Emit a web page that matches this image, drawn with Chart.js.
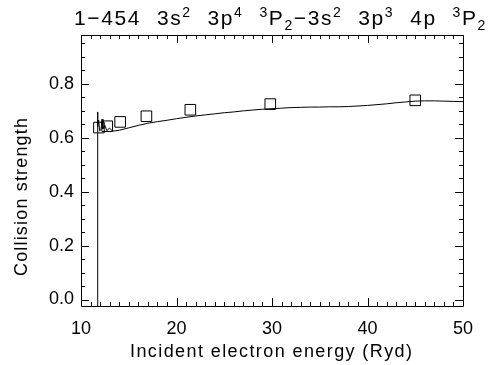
<!DOCTYPE html>
<html><head><meta charset="utf-8">
<script src="https://cdn.jsdelivr.net/npm/chart.js@4"></script>
<style>html,body{margin:0;padding:0;background:#fff}#wrap{width:493px;height:365px}</style>
</head><body><div id="wrap"><canvas id="c" width="493" height="365"></canvas></div>
<script>
// Theoretical collision strength curve (Incident electron energy in Ryd)
const curveX = [11.71, 11.72, 11.78, 11.85, 11.95, 12.1, 12.2, 12.3, 12.5, 12.7, 13.0, 13.3, 14.0, 15.0, 16.0, 17.0, 18.0, 19.0, 20.0, 21.0, 22.0, 23.0, 24.0, 25.0, 26.0, 27.0, 28.0, 29.0, 30.0, 31.0, 32.0, 33.0, 34.0, 35.0, 36.0, 37.0, 38.0, 39.0, 40.0, 41.0, 42.0, 43.0, 44.0, 45.0, 46.0, 47.0, 48.0, 49.0, 50.0];
const curveY = [-0.05, 0.695, 0.64, 0.665, 0.625, 0.63, 0.668, 0.632, 0.645, 0.626, 0.635, 0.624, 0.627, 0.636, 0.645, 0.653, 0.659, 0.664, 0.670, 0.675, 0.680, 0.684, 0.688, 0.692, 0.695, 0.699, 0.702, 0.705, 0.707, 0.709, 0.711, 0.712, 0.713, 0.713, 0.714, 0.714, 0.715, 0.717, 0.719, 0.722, 0.725, 0.729, 0.732, 0.735, 0.736, 0.736, 0.735, 0.734, 0.733];
// Comparison data points (squares)
const pointX = [11.88, 12.75, 14.1, 16.85, 21.45, 29.82, 45.0];
const pointY = [0.637, 0.642, 0.658, 0.679, 0.703, 0.724, 0.738];
// Tick labels
const xTickValues = [10, 20, 30, 40, 50];
const yTickValues = [0.0, 0.2, 0.4, 0.6, 0.8];
// Title words (text with superscripts / subscripts)
const titleWords = [
  [['1\u2212454', 'n']],
  [['3s', 'n'], ['2', 'sup']],
  [['3p', 'n'], ['4', 'sup']],
  [['3', 'sup'], ['P', 'n'], ['2', 'sub'], ['\u22123s', 'n'], ['2', 'sup']],
  [['3p', 'n'], ['3', 'sup']],
  [['4p', 'n']],
  [['3', 'sup'], ['P', 'n'], ['2', 'sub']]
];
const xTitle = 'Incident electron energy (Ryd)';
const yTitle = 'Collision strength';

const FONT = 'Liberation Sans';

function spacedText(ctx, text, font, targetWidth) {
  ctx.font = font;
  ctx.letterSpacing = '0px';
  const w = ctx.measureText(text).width;
  return (targetWidth - w) / Math.max(1, text.length - 1);
}

const framePlugin = {
  id: 'frame',
  afterDraw(chart) {
    const ctx = chart.ctx;
    const a = chart.chartArea;
    const xs = chart.scales.x, ys = chart.scales.y;
    ctx.save();
    ctx.strokeStyle = '#000';
    ctx.lineWidth = 1;
    ctx.beginPath();
    ctx.rect(Math.round(a.left) + 0.5, Math.round(a.top) + 0.5, Math.round(a.right - a.left), Math.round(a.bottom - a.top));
    ctx.stroke();
    // inward ticks on x (bottom & top)
    ctx.beginPath();
    for (let v = xs.min; v <= xs.max + 1e-9; v += 1) {
      const major = Math.abs(v % 10) < 1e-6;
      const L = major ? 8 : 4;
      const px = Math.round(xs.getPixelForValue(v)) + 0.5;
      ctx.moveTo(px, a.bottom); ctx.lineTo(px, a.bottom - L);
      ctx.moveTo(px, a.top); ctx.lineTo(px, a.top + L);
    }
    // inward ticks on y (left & right)
    for (let i = 0; i <= 19; i++) {
      const v = i * 0.05;
      if (v > ys.max) break;
      const major = i % 4 === 0;
      const L = major ? 8 : 4;
      const py = Math.round(ys.getPixelForValue(v)) + 0.5;
      ctx.moveTo(a.left, py); ctx.lineTo(a.left + L, py);
      ctx.moveTo(a.right, py); ctx.lineTo(a.right - L, py);
    }
    ctx.stroke();

    ctx.fillStyle = '#000';
    ctx.textBaseline = 'alphabetic';
    ctx.textAlign = 'left';

    // Title: words laid out with a uniform gap to span the reference width
    const fBase = '21px "' + FONT + '"', fSmall = '14px "' + FONT + '"';
    ctx.letterSpacing = '1.6px';
    const widths = titleWords.map(word => word.reduce((acc, [t, k]) => {
      ctx.font = k === 'n' ? fBase : fSmall;
      return acc + ctx.measureText(t).width;
    }, 0));
    const total = widths.reduce((p, c) => p + c, 0);
    const gap = (413 - total) / (titleWords.length - 1);
    const baseY = 25;
    let x = 74;
    titleWords.forEach((word, wi) => {
      let xx = x;
      for (const [t, k] of word) {
        let y = baseY;
        ctx.font = k === 'n' ? fBase : fSmall;
        if (k === 'sup') y = baseY - 8;
        if (k === 'sub') y = baseY + 5;
        ctx.fillText(t, xx, y);
        xx += ctx.measureText(t).width;
      }
      x += widths[wi] + gap;
    });

    // X axis title
    const fAx = '18px "' + FONT + '"';
    let s = spacedText(ctx, xTitle, fAx, 282);
    ctx.letterSpacing = s.toFixed(2) + 'px';
    ctx.textBaseline = 'middle';
    ctx.fillText(xTitle, 130, 352);

    // Y axis title
    s = spacedText(ctx, yTitle, fAx, 158);
    ctx.letterSpacing = s.toFixed(2) + 'px';
    ctx.translate(22, 276);
    ctx.rotate(-Math.PI / 2);
    ctx.fillText(yTitle, 0, 0);
    ctx.restore();
  }
};

new Chart(document.getElementById('c'), {
  data: {
    datasets: [
      {
        type: 'line',
        data: curveX.map((x, i) => ({ x: x, y: curveY[i] })),
        borderColor: '#000',
        borderWidth: 1,
        pointRadius: 0,
        tension: 0,
        fill: false
      },
      {
        type: 'scatter',
        data: pointX.map((x, i) => ({ x: x, y: pointY[i] })),
        borderColor: '#000',
        backgroundColor: 'rgba(0,0,0,0)',
        borderWidth: 1,
        pointStyle: 'rect',
        pointRadius: 7.5,
        showLine: false
      }
    ]
  },
  plugins: [framePlugin],
  options: {
    responsive: false,
    animation: false,
    devicePixelRatio: 1,
    layout: { padding: { top: 35, right: 30, left: 0, bottom: 0 } },
    plugins: { legend: { display: false }, tooltip: { enabled: false }, title: { display: false } },
    scales: {
      x: {
        type: 'linear',
        min: 10, max: 50,
        afterFit: s => { s.height = 59; },
        afterBuildTicks: s => { s.ticks = xTickValues.map(v => ({ value: v })); },
        grid: { display: false, drawTicks: false },
        border: { display: false },
        ticks: { color: '#000', font: { family: FONT, size: 18 }, padding: 12, autoSkip: false, maxRotation: 0, callback: v => String(v) },
        title: { display: false, text: xTitle }
      },
      y: {
        type: 'linear',
        min: -0.024, max: 0.98,
        afterFit: s => { s.width = 81; },
        afterBuildTicks: s => { s.ticks = yTickValues.map(v => ({ value: v })); },
        grid: { display: false, drawTicks: false },
        border: { display: false },
        ticks: { color: '#000', font: { family: FONT, size: 18 }, padding: 7, callback: v => Number(v).toFixed(1) },
        title: { display: false, text: yTitle }
      }
    }
  }
});
</script>
</body></html>
